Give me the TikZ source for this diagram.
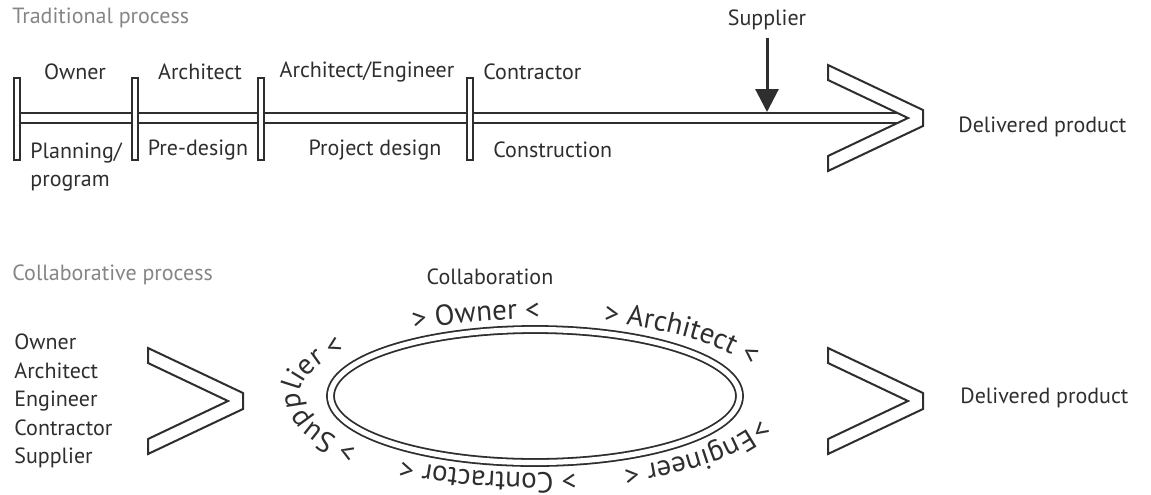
\documentclass[tikz,border=0pt]{standalone}
\usepackage{fontspec}
\setmainfont{PT Sans}
\usetikzlibrary{arrows.meta,decorations.text}
\definecolor{ink}{HTML}{2E2E2E}
\definecolor{titlegray}{HTML}{858585}
\definecolor{linegray}{HTML}{2E2E2E}
\newcommand{\ringfont}{\fontsize{14.5}{17}\selectfont}

\begin{document}
\begin{tikzpicture}[x=0.5pt, y=-0.5pt]
    \tikzstyle{lbl} = [text=ink, font=\fontsize{11}{14.2}\selectfont, inner sep=0pt]
    \tikzstyle{heading} = [lbl, text=titlegray, anchor=west]
    \tikzstyle{bar} = [draw=linegray, line width=1pt, double=white, double distance=4pt]
    \tikzstyle{tick} = [draw=linegray, line width=1pt, fill=white]
    \tikzstyle{chev} = [draw=linegray, line width=1pt, fill=white, line join=miter]
    \tikzstyle{ring} = [draw=linegray, line width=0.9pt, double=white, double distance=2.6pt]
    \tikzstyle{around} = [decorate, decoration={text along path, text align=left, text color=ink}]
    \tikzset{pics/chevron/.style={code={
        \draw[chev] (0,-53) -- (95,-8) -- (95,8) -- (0,53) -- (0,38) -- (80,0) -- (0,-38) -- cycle;
    }}}

    \useasboundingbox (0,0) rectangle (1151,494);

    % traditional process
    \node[heading] (trad) at (12,18) {Traditional process};

    \draw[bar] (17,118) -- (903,118);
    \foreach \x in {17,135,261,470}
        \draw[tick] (\x-3,78) rectangle (\x+3,160);
    \pic at (828,118) {chevron};

    \node[lbl] (own) at (75,72) {Owner};
    \node[lbl] (arch) at (200,72) {Architect};
    \node[lbl] (archeng) at (367,72) {Architect/Engineer};
    \node[lbl, anchor=west] (contr) at (483,72) {Contractor};

    \node[lbl, align=left, anchor=north west] (plan) at (30,142) {Planning/\\program};
    \node[lbl] (pre) at (198,150) {Pre-design};
    \node[lbl] (proj) at (375,150) {Project design};
    \node[lbl, anchor=west] (constr) at (493,150) {Construction};

    \node[lbl] (sup) at (767,20) {Supplier};
    \coordinate (supin) at (767,112);
    \draw[-{Triangle[width=11.5pt,length=11.5pt]}, line width=1.5pt, linegray, shorten <=4pt] (sup) -- (supin);

    \node[lbl, anchor=west] (deliv1) at (958,127) {Delivered product};

    % collaborative process
    \node[heading] (collab) at (12,275) {Collaborative process};
    \node[lbl, align=left, anchor=west] (team) at (14,401) {Owner\\Architect\\Engineer\\Contractor\\Supplier};
    \pic at (148,401) {chevron};

    \node[lbl] (collabtitle) at (490,277) {Collaboration};
    \draw[ring] (535,396) ellipse [x radius=204.5, y radius=66.5];

    \path[around, decoration={text={|\ringfont|> Owner <}}]
        (535,396) ++(-121:235 and 77) arc[start angle=-121, end angle=-40, x radius=235, y radius=77];
    \path[around, decoration={text={|\ringfont|> Architect <}}]
        (535,396) ++(-73:235 and 77) arc[start angle=-73, end angle=20, x radius=235, y radius=77];
    \path[around, decoration={text={|\ringfont|>Engineer <}}]
        (535,396) ++(17:235 and 77) arc[start angle=17, end angle=110, x radius=235, y radius=77];
    \path[around, decoration={text={|\ringfont|> Contractor <}}]
        (535,396) ++(80:235 and 77) arc[start angle=80, end angle=170, x radius=235, y radius=77];
    \path[around, decoration={text={|\ringfont|> Supplier <}}]
        (535,396) ++(139:235 and 77) arc[start angle=139, end angle=260, x radius=235, y radius=77];

    \pic at (828,401) {chevron};
    \node[lbl, anchor=west] (deliv2) at (960,398) {Delivered product};
\end{tikzpicture}
\end{document}
